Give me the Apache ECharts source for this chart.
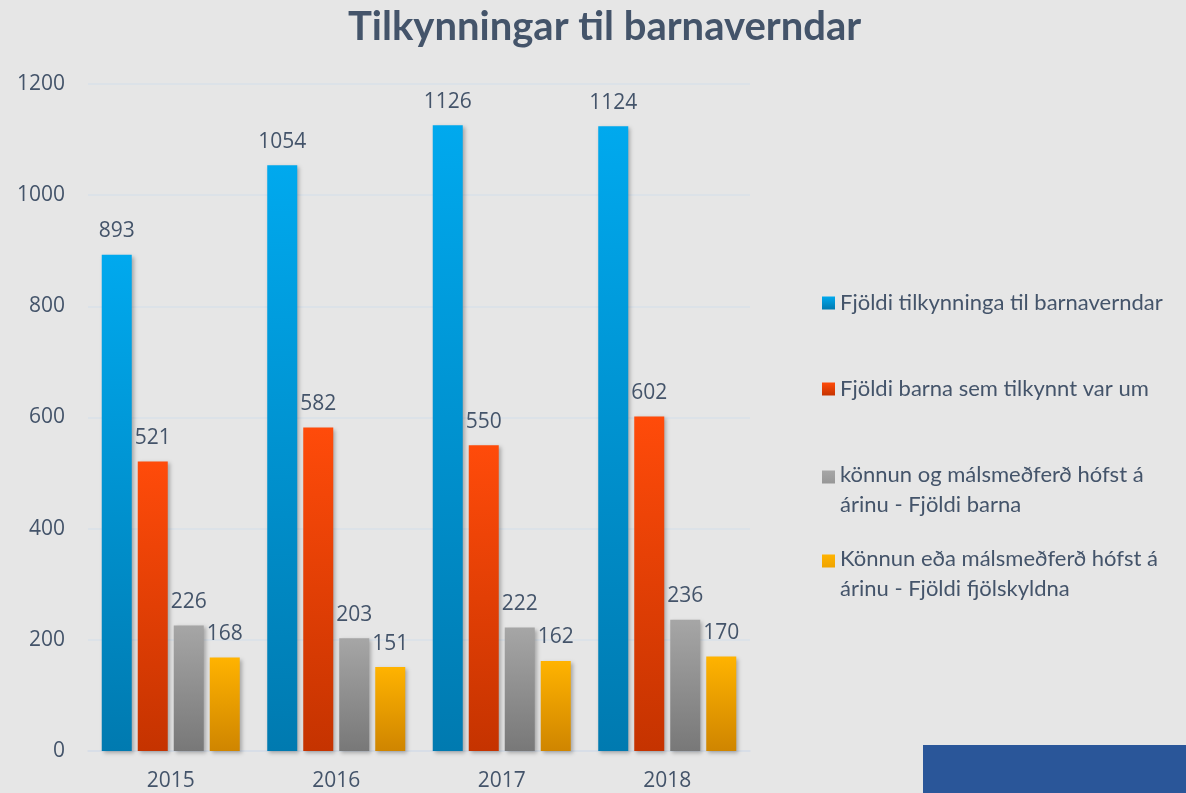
<!DOCTYPE html>
<html>
<head>
<meta charset="utf-8">
<title>Tilkynningar til barnaverndar</title>
<script src="https://cdn.jsdelivr.net/npm/echarts@6/dist/echarts.min.js"></script>
<style>
  html, body { margin: 0; padding: 0; background: #e6e6e6; }
  #chart { width: 1186px; height: 793px; }
</style>
</head>
<body>
<div id="chart"></div>
<script>
// data
const years = ['2015', '2016', '2017', '2018']
const tilkynningar = [893, 1054, 1126, 1124]
const fjoldiBarna = [521, 582, 550, 602]
const konnunBorn = [226, 203, 222, 236]
const konnunFjolskyldur = [168, 151, 162, 170]
const yTicks = [0, 200, 400, 600, 800, 1000, 1200]

const names = [
  'Fjöldi tilkynninga til barnaverndar',
  'Fjöldi barna sem tilkynnt var um',
  'könnun og málsmeðferð hófst á árinu - Fjöldi barna',
  'Könnun eða málsmeðferð hófst á árinu - Fjöldi fjölskyldna'
]
// texti skipt í línur eins og í myndinni
const legendText = {
  [names[0]]: 'Fjöldi tilkynninga til barnaverndar',
  [names[1]]: 'Fjöldi barna sem tilkynnt var um',
  [names[2]]: 'könnun og málsmeðferð hófst á\nárinu - Fjöldi barna',
  [names[3]]: 'Könnun eða málsmeðferð hófst á\nárinu - Fjöldi fjölskyldna'
}

const textColor = '#44546a'
const font = 'Lato, "Open Sans", sans-serif'
const numFont = '"Open Sans", Lato, sans-serif'

const grad = (top, bottom) =>
  new echarts.graphic.LinearGradient(0, 0, 0, 1, [
    { offset: 0, color: top },
    { offset: 1, color: bottom }
  ])

const colors = [
  grad('#00a9ee', '#007ab0'),
  grad('#ff4b0a', '#c53300'),
  grad('#a6a6a6', '#787878'),
  grad('#ffb300', '#cf8500')
]

const chart = echarts.init(document.getElementById('chart'))

const makeSeries = (name, data, color) => ({
  name,
  type: 'bar',
  data,
  barWidth: 30,
  barGap: '20%',
  itemStyle: {
    color,
    shadowBlur: 4,
    shadowColor: 'rgba(0,0,0,0.28)',
    shadowOffsetX: 2,
    shadowOffsetY: 2
  },
  label: {
    show: true,
    position: 'top',
    distance: 13,
    color: textColor,
    fontSize: 21,
    fontFamily: numFont
  }
})

// eitt legend fyrir hverja röð svo bilin verði eins og í myndinni
const squareIcon = 'path://M0,0H10V10H0Z'
const tallIcon = 'path://M0,0H10V10H0ZM0,30L0,30'
const legendTops = [283, 369, 455, 539]
const legends = names.map((n, i) => ({
  data: [n],
  orient: 'vertical',
  left: 817,
  top: legendTops[i],
  icon: i < 2 ? squareIcon : tallIcon,
  itemWidth: 13,
  itemHeight: i < 2 ? 13 : 39,
  selectedMode: false,
  formatter: name => legendText[name],
  textStyle: {
    color: textColor,
    fontSize: 22,
    fontFamily: font,
    lineHeight: 30
  }
}))

const options = {
  backgroundColor: '#e6e6e6',
  animation: false,
  title: {
    text: 'Tilkynningar til barnaverndar',
    left: 343,
    top: 2,
    textStyle: {
      color: textColor,
      fontSize: 40,
      fontWeight: 'bold',
      fontFamily: font
    }
  },
  legend: legends,
  grid: {
    left: 88,
    right: 436,
    top: 84,
    bottom: 42
  },
  xAxis: {
    type: 'category',
    data: years,
    axisTick: { show: false },
    axisLine: { lineStyle: { color: '#d6dde6', width: 1.5 } },
    axisLabel: {
      color: textColor,
      fontSize: 21,
      fontFamily: numFont,
      margin: 20
    }
  },
  yAxis: {
    type: 'value',
    min: yTicks[0],
    max: yTicks[yTicks.length - 1],
    interval: 200,
    axisLine: { show: false },
    axisTick: { show: false },
    splitLine: { lineStyle: { color: '#d9e0e9', width: 1.5 } },
    axisLabel: {
      color: textColor,
      fontSize: 21,
      fontFamily: numFont,
      margin: 23,
      formatter: v => String(v)
    }
  },
  series: [
    makeSeries(names[0], tilkynningar, colors[0]),
    makeSeries(names[1], fjoldiBarna, colors[1]),
    makeSeries(names[2], konnunBorn, colors[2]),
    makeSeries(names[3], konnunFjolskyldur, colors[3])
  ],
  graphic: [
    {
      type: 'rect',
      left: 923,
      top: 745,
      shape: { width: 263, height: 48 },
      style: { fill: '#2a5699' },
      z: 10
    }
  ]
}

chart.setOption(options)
</script>
</body>
</html>
